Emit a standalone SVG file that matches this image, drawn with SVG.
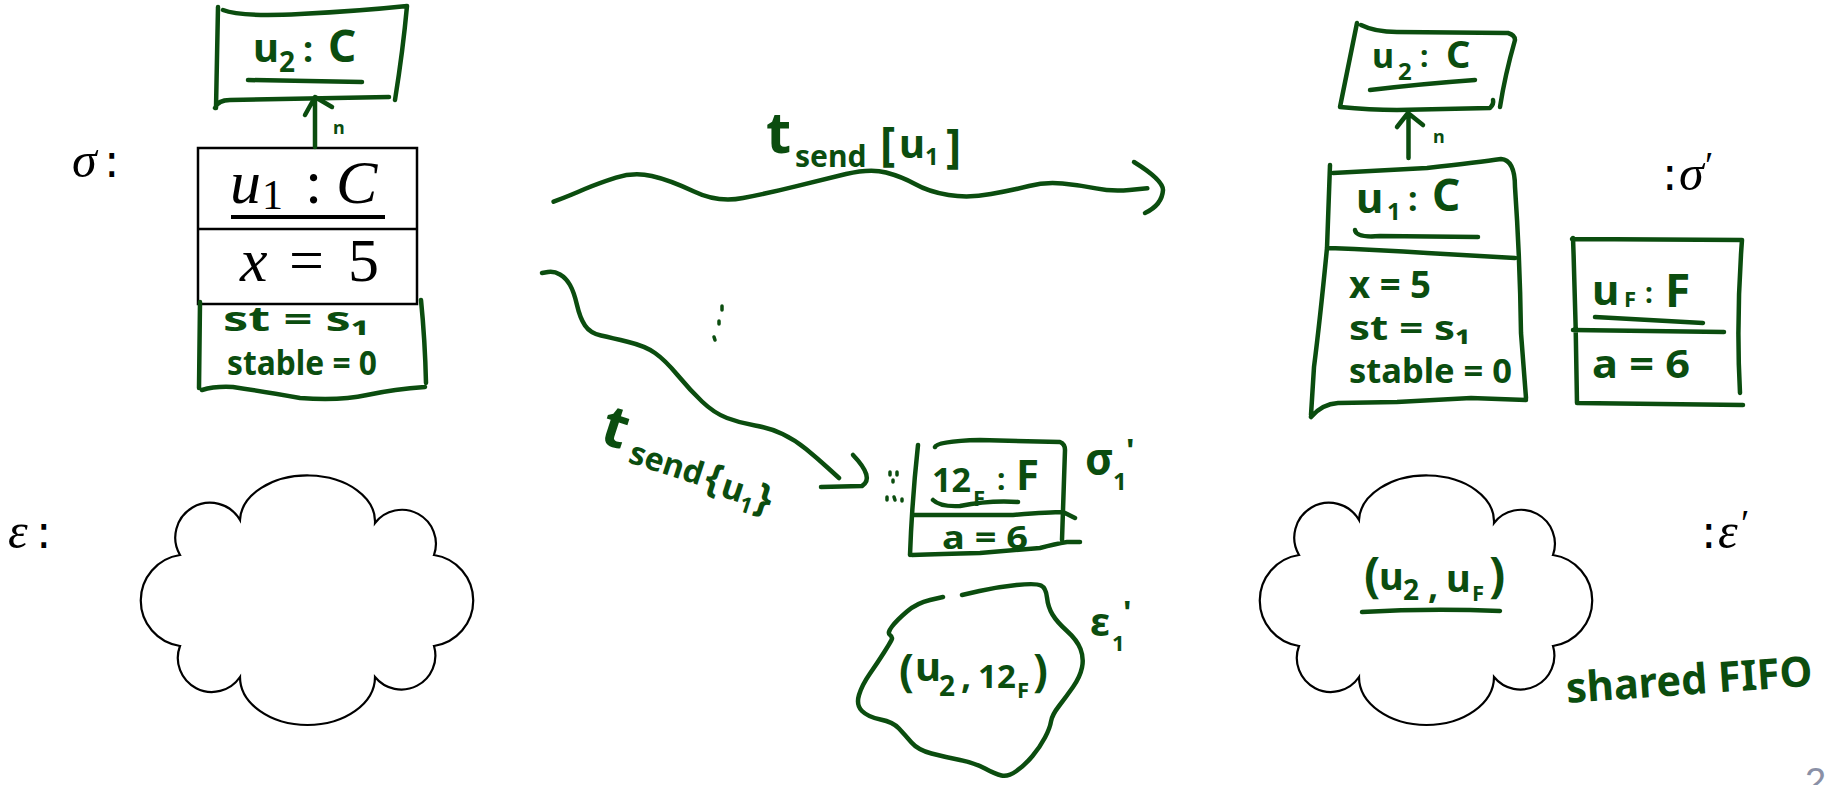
<svg xmlns="http://www.w3.org/2000/svg" width="1828" height="785" viewBox="0 0 1828 785">
  <style>
    .hw { fill: #0b4d0f; font-family: "Noto Sans", "DejaVu Sans", sans-serif; font-weight: 700; }
    .pen { fill: none; stroke: #0b4d0f; stroke-width: 4.5; stroke-linecap: round; stroke-linejoin: round; }
    .dot { fill: none; stroke: #0b4d0f; stroke-width: 3.5; stroke-linecap: round; }
    .math { fill: #000; font-family: "Liberation Serif", "DejaVu Serif", serif; }
    .mi { font-style: italic; }
    .sans { fill: #000; font-family: "DejaVu Sans", sans-serif; }
    .cloud { fill: #fff; stroke: #000; stroke-width: 2.2; }
    .box { fill: #fff; stroke: #000; stroke-width: 2.5; }
  </style>
  <defs>
    <path id="cloudShape" d="M240,520 A67.5,46 0 0 1 375,523 A34,34 0 0 1 434,555 A46,46 0 0 1 434,646 A34,34 0 0 1 375,677 A67.5,48 0 0 1 240,677 A34,34 0 0 1 180,646 A46,46 0 0 1 180,555 A34,34 0 0 1 240,520 Z"/>
  </defs>
  <rect width="1828" height="785" fill="#fff"/>

  <!-- state labels -->
  <g id="labels">
    <text class="math mi" x="72" y="177" font-size="50">σ</text>
    <text class="sans" x="104" y="177" font-size="46">:</text>
    <text class="math mi" x="8" y="548" font-size="50">ε</text>
    <text class="sans" x="36" y="548" font-size="46">:</text>
    <text class="sans" x="1662" y="190" font-size="46">:</text>
    <text class="math mi" x="1679" y="190" font-size="50">σ</text>
    <text class="math" x="1705" y="178" font-size="38">′</text>
    <text class="sans" x="1701" y="548" font-size="46">:</text>
    <text class="math mi" x="1718" y="548" font-size="50">ε</text>
    <text class="math" x="1741" y="536" font-size="38">′</text>
  </g>

  <!-- left object u2 : C -->
  <g id="u2-left">
    <path class="pen" d="M218,7 L216,108 M215,108 Q218,100 230,100 L389,97 M223,10 Q240,17 300,14 Q360,11 407,6 M407,6 Q403,50 395,100"/>
    <text class="hw"><tspan x="253" y="62" font-size="40">u</tspan><tspan x="279" y="72" font-size="28">2</tspan><tspan x="303" y="62" font-size="36">:</tspan><tspan x="328" y="62" font-size="44">C</tspan></text>
    <path class="pen" d="M248,80 L362,82"/>
  </g>

  <!-- left object u1 : C -->
  <g id="u1-left">
    <rect class="box" x="198" y="148" width="219" height="156"/>
    <line x1="198" y1="229" x2="417" y2="229" stroke="#000" stroke-width="2.5"/>
    <text class="math"><tspan class="mi" x="230" y="203" font-size="62">u</tspan><tspan x="262" y="209" font-size="42">1</tspan><tspan x="305" y="203" font-size="62">:</tspan><tspan class="mi" x="336" y="203" font-size="62">C</tspan></text>
    <line x1="231" y1="217" x2="385" y2="217" stroke="#000" stroke-width="4"/>
    <text class="math"><tspan class="mi" x="240" y="281" font-size="62">x</tspan><tspan x="289" y="281" font-size="62">=</tspan><tspan x="348" y="281" font-size="62">5</tspan></text>
    <path class="pen" d="M200,302 L199,388 M202,390 Q215,386 233,387 Q260,391 300,398 Q340,401 367,395 Q395,389 425,387 M421,300 Q425,340 426,383"/>
    <text class="hw" x="223" y="331" font-size="34" textLength="147" lengthAdjust="spacingAndGlyphs">st = s₁</text>
    <text class="hw" x="227" y="375" font-size="34" textLength="150" lengthAdjust="spacingAndGlyphs">stable = 0</text>
  </g>

  <!-- left environment -->
  <g id="env-left">
    <use href="#cloudShape" class="cloud"/>
  </g>

  <!-- intermediate object sigma1' -->
  <g id="obj-sigma1">
    <path class="pen" d="M918,445 Q912,500 910,555 M935,447 Q937,441 980,440 L1060,442 Q1065,444 1065,450 L1062,540 M913,515 L1013,515 Q1050,512 1063,512 L1075,518 M912,555 Q940,554 980,553 L1040,548 Q1055,544 1067,542 L1080,542"/>
    <text class="hw"><tspan x="932" y="492" font-size="34">12</tspan><tspan x="973" y="506" font-size="22">F</tspan><tspan x="997" y="490" font-size="30">:</tspan><tspan x="1016" y="490" font-size="42">F</tspan></text>
    <path class="pen" d="M933,500 Q940,507 960,506 Q990,500 1018,502"/>
    <text class="hw" x="942" y="549" font-size="32" textLength="86" lengthAdjust="spacingAndGlyphs">a = 6</text>
    <text class="hw"><tspan x="1085" y="475" font-size="44">σ</tspan><tspan x="1113" y="490" font-size="24">1</tspan><tspan x="1126" y="462" font-size="32">'</tspan></text>
    <path class="dot" d="M890,472 L890,475 M897,472 L897,475 M893,480 L893,482 M887,497 L887,500 M894,497 L895,500 M902,499 L902,501"/>
  </g>

  <!-- intermediate environment eps1' -->
  <g id="env-eps1">
    <path class="pen" d="M943,597 L930,600 Q917,603 907,611.5 Q897,620 892,626.5 Q887,633 890,635 Q893,637 891.5,640 Q890,643 884,652.5 Q878,662 870,673.5 Q862,685 859,695 Q856,705 862,711 Q868,717 880.5,719.5 Q893,722 899,728.5 Q905,735 911.5,742.5 Q918,750 931.5,753.5 Q945,757 960,760 Q975,763 985,768.5 Q995,774 1001.5,775.5 Q1008,777 1016.5,771 Q1025,765 1032.5,756 Q1040,747 1045,737.5 Q1050,728 1051,721.5 Q1052,715 1059,706 Q1066,697 1073,687 Q1080,677 1082,667.5 Q1084,658 1080.5,649 Q1077,640 1067,631 Q1057,622 1052.5,614.5 Q1048,607 1047,597.5 Q1046,588 1041,585.5 Q1036,583 1016.5,585 Q997,587 979.5,591 L962,595"/>
    <text class="hw"><tspan x="899" y="686" font-size="44">(</tspan><tspan x="915" y="681" font-size="40">u</tspan><tspan x="939" y="696" font-size="28">2</tspan><tspan x="961" y="688" font-size="36">,</tspan><tspan x="978" y="688" font-size="33">12</tspan><tspan x="1017" y="698" font-size="22">F</tspan><tspan x="1033" y="686" font-size="44">)</tspan></text>
    <text class="hw"><tspan x="1090" y="636" font-size="40">ε</tspan><tspan x="1112" y="651" font-size="22">1</tspan><tspan x="1123" y="624" font-size="32">'</tspan></text>
  </g>

  <!-- right object u2 : C -->
  <g id="u2-right">
    <path class="pen" d="M1357,23 L1340,107 M1361,25 Q1375,32 1397,32 L1508,33 Q1515,35 1515,40 M1515,40 Q1505,75 1500,107 M1340,107 Q1370,110 1397,110 L1490,108 Q1494,104 1493,100"/>
    <text class="hw"><tspan x="1372" y="68" font-size="34">u</tspan><tspan x="1398" y="80" font-size="24">2</tspan><tspan x="1420" y="67" font-size="30">:</tspan><tspan x="1446" y="68" font-size="38">C</tspan></text>
    <path class="pen" d="M1370,90 Q1420,84 1475,80"/>
  </g>

  <!-- right object u1 : C -->
  <g id="u1-right">
    <path class="pen" d="M1330,165 L1327,248 Q1320,320 1314,367 L1311,415 M1311,417 Q1322,404 1338,403 L1397,402 L1471,398 L1526,400 M1515,187 Q1520,260 1521,333 L1526,398 M1333,173 L1427,168 Q1480,162 1501,159 Q1515,160 1515,187 M1329,248 Q1380,250 1427,253 L1515,258"/>
    <text class="hw"><tspan x="1356" y="213" font-size="42">u</tspan><tspan x="1387" y="220" font-size="24">1</tspan><tspan x="1408" y="211" font-size="34">:</tspan><tspan x="1432" y="211" font-size="44">C</tspan></text>
    <path class="pen" d="M1355,230 Q1356,238 1380,236 L1478,237"/>
    <text class="hw" x="1349" y="298" font-size="38" textLength="82" lengthAdjust="spacingAndGlyphs">x = 5</text>
    <text class="hw" x="1349" y="340" font-size="34" textLength="122" lengthAdjust="spacingAndGlyphs">st = s₁</text>
    <text class="hw" x="1349" y="383" font-size="34" textLength="163" lengthAdjust="spacingAndGlyphs">stable = 0</text>
  </g>

  <!-- right object uF : F -->
  <g id="uF-right">
    <path class="pen" d="M1573,238 Q1576,320 1577,403 M1572,239 L1742,240 M1742,240 Q1736,320 1740,393 M1577,403 L1743,405 M1573,330 L1724,332"/>
    <text class="hw"><tspan x="1592" y="305" font-size="42">u</tspan><tspan x="1624" y="307" font-size="22">F</tspan><tspan x="1645" y="303" font-size="28">:</tspan><tspan x="1665" y="307" font-size="46">F</tspan></text>
    <path class="pen" d="M1595,317 Q1650,320 1703,323"/>
    <text class="hw" x="1592" y="378" font-size="40" textLength="98" lengthAdjust="spacingAndGlyphs">a = 6</text>
  </g>

  <!-- right environment -->
  <g id="env-right">
    <use href="#cloudShape" class="cloud" transform="translate(1119,0)"/>
    <text class="hw"><tspan x="1364" y="592" font-size="48">(</tspan><tspan x="1379" y="590" font-size="38">u</tspan><tspan x="1403" y="600" font-size="28">2</tspan><tspan x="1428" y="598" font-size="36">,</tspan><tspan x="1446" y="592" font-size="38">u</tspan><tspan x="1472" y="601" font-size="22">F</tspan><tspan x="1489" y="592" font-size="48">)</tspan></text>
    <path class="pen" d="M1362,612 Q1430,608 1500,611"/>
    <text class="hw" x="1567" y="703" font-size="42" textLength="247" lengthAdjust="spacingAndGlyphs" transform="rotate(-4 1567 703)">shared FIFO</text>
  </g>

  <!-- connectors: links and transitions -->
  <g id="connectors">
    <path class="pen" d="M315,147 L315,98 M305,115 L315,97 L332,107"/>
    <text class="hw" x="333" y="134" font-size="18">n</text>
    <path class="pen" d="M1408.5,158 L1408.5,114 M1397,127 L1408,113 L1423,125"/>
    <text class="hw" x="1433" y="143" font-size="18">n</text>

    <path class="pen" d="M553.6,201.7 Q571.4,195 584.8,189 Q598.2,183.3 616,177.6 Q634,172 651.8,176 Q669.6,180 694,191.5 Q718,203 743,198 Q767.8,193.3 794.6,186.6 Q821.4,180 846,174 Q870.5,168.3 886,172.5 Q901.8,176.7 915,184 Q928.5,191.7 948.6,195 Q968.8,198.3 991,194 Q1013.4,190 1029,186 Q1044.6,181.7 1062.4,183.4 Q1080.3,185 1096,188.4 Q1111.6,191.7 1129.5,190 L1147.3,188.3"/>
    <path class="pen" d="M1134,162 Q1163,180 1163,190 Q1162,205 1145,213"/>
    <text class="hw"><tspan x="766" y="153" font-size="58">t</tspan><tspan x="795" y="167" font-size="30">send</tspan><tspan x="880" y="160" font-size="46">[</tspan><tspan x="899" y="158" font-size="40">u</tspan><tspan x="925" y="165" font-size="24">1</tspan><tspan x="946" y="162" font-size="46">]</tspan></text>

    <path class="pen" d="M542,273 L548,272 Q554,271 560,274.5 Q566,278 570,285 Q574,292 577,305 Q580,318 585,325.5 Q590,333 601,335.5 Q612,338 628.5,342 Q645,346 655,353 Q665,360 677.5,375 Q690,390 702,401.5 Q714,413 727,418 Q740,423 755,425.5 Q770,428 782.5,434 Q795,440 806,449 Q817,458 828,468 L839,478"/>
    <path class="pen" d="M853,455 Q875,478 862,486 L821,487"/>
    <g transform="translate(627,462) rotate(18)">
      <text class="hw"><tspan x="-34" y="-10" font-size="58">t</tspan><tspan x="0" y="0" font-size="32">send</tspan><tspan x="80" y="2" font-size="40">{</tspan><tspan x="98" y="4" font-size="34">u</tspan><tspan x="120" y="12" font-size="22">1</tspan><tspan x="134" y="6" font-size="40">}</tspan></text>
    </g>
    <path class="dot" d="M722,306 L722,310 M719,321 L719,324 M714,337 L715,340"/>
  </g>

  <text x="1805" y="795" font-size="38" fill="#8a90a6" font-family="Liberation Sans, sans-serif">2</text>
</svg>
